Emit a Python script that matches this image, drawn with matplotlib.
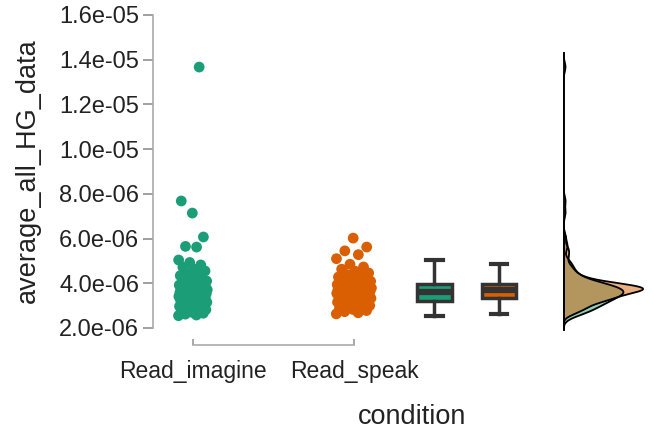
import numpy as np
import matplotlib
matplotlib.use("Agg")
import matplotlib.pyplot as plt

plt.rcParams["font.family"] = ["Liberation Sans", "DejaVu Sans"]

categories = ["Read_imagine", "Read_speak"]
colors = ["#1b9e77", "#d95f02"]

# values in units of 1e-06
read_imagine = [
    2.55, 2.58, 2.62, 2.66, 2.70, 2.73, 2.76, 2.79, 2.82, 2.85, 2.88, 2.91, 2.94,
    2.97, 3.00, 3.03, 3.05, 3.07, 3.09, 3.11, 3.13, 3.15, 3.17, 3.19, 3.21,
    3.23, 3.25, 3.27, 3.29, 3.31, 3.33, 3.35, 3.37, 3.39, 3.41, 3.42, 3.44, 3.45,
    3.47, 3.48, 3.50, 3.51, 3.53, 3.54, 3.56, 3.57, 3.58, 3.59, 3.60, 3.62,
    3.63, 3.65, 3.66, 3.68, 3.69, 3.71, 3.72, 3.74, 3.75, 3.77, 3.78, 3.80, 3.82,
    3.83, 3.85, 3.87, 3.88, 3.90, 3.92, 3.94, 3.96, 3.97, 3.99, 4.01, 4.03,
    4.06, 4.10, 4.14, 4.18, 4.23, 4.28, 4.34, 4.40, 4.47, 4.55, 4.63, 4.72, 4.82,
    4.93, 5.04, 5.62, 5.65, 6.07, 7.14, 7.68, 13.67,
]
read_speak = [
    2.63, 2.68, 2.73, 2.78, 2.83, 2.88, 2.92, 2.96, 3.00, 3.04, 3.07, 3.10, 3.13,
    3.16, 3.19, 3.21, 3.23, 3.25, 3.27, 3.29, 3.31, 3.33, 3.34, 3.36, 3.37,
    3.39, 3.41, 3.43, 3.45, 3.47, 3.49, 3.50, 3.52, 3.54, 3.55, 3.57, 3.58, 3.60,
    3.61, 3.62, 3.64, 3.65, 3.66, 3.67, 3.68, 3.69, 3.70, 3.71, 3.72, 3.73,
    3.74, 3.75, 3.76, 3.77, 3.78, 3.79, 3.80, 3.81, 3.82, 3.83, 3.84, 3.85, 3.86,
    3.87, 3.88, 3.89, 3.91, 3.92, 3.94, 3.95, 3.97, 3.98, 4.00, 4.01, 4.03,
    4.06, 4.09, 4.12, 4.15, 4.19, 4.23, 4.28, 4.33, 4.39, 4.46, 4.54, 4.63, 4.73,
    4.85, 5.10, 5.28, 5.45, 5.62, 6.02,
]
groups = [np.array(read_imagine) * 1e-6, np.array(read_speak) * 1e-6]

yticks = np.arange(2, 17, 2) * 1e-6
ylim = (1.24e-6, 1.6e-5)

fig = plt.figure(figsize=(6.53, 4.34), dpi=100)
ax = fig.add_axes([0.2343, 0.2051, 0.579, 0.7604])
axd = fig.add_axes([0.862, 0.2051, 0.138, 0.7604])

# jittered points
for i, (vals, col) in enumerate(zip(groups, colors)):
    k = np.arange(len(vals))
    jit = ((k * 0.618034) % 1 - 0.5) * 2 * (0.09 + 0.02 * i)
    ax.scatter(i + 1 + jit, vals, s=60, color=col, edgecolors="none", zorder=3)

# boxplots
bp = ax.boxplot(groups, positions=[2.5, 2.9], widths=0.215, patch_artist=True,
                showfliers=False, capwidths=0.1, manage_ticks=False)
for patch, col in zip(bp["boxes"], colors):
    patch.set_facecolor(col)
    patch.set_edgecolor("#333333")
    patch.set_linewidth(2.5)
for key in ["whiskers", "caps", "medians"]:
    for ln in bp[key]:
        ln.set_color("#333333")
        ln.set_linewidth(2.5)
for ln in bp["medians"]:
    ln.set_linewidth(4.5)
for ln in bp["caps"]:
    ln.set_linewidth(3)

ax.set_xlim(0.7516, 3.1)
ax.set_ylim(*ylim)
ax.set_yticks(yticks)
ax.set_yticklabels([f"{v:.1e}" for v in yticks])
ax.set_xticks([1, 2])
ax.set_xticklabels(categories)
for s in ["top", "right"]:
    ax.spines[s].set_visible(False)
ax.spines["left"].set_bounds(2e-6, 1.6e-5)
ax.spines["bottom"].set_bounds(1, 2)
for s in ["left", "bottom"]:
    ax.spines[s].set_color("#aaaaaa")
    ax.spines[s].set_linewidth(1.2)
ax.tick_params(axis="y", length=7, width=1.3, color="#999999", pad=3,
               labelsize=17, labelcolor="#222222")
ax.tick_params(axis="x", direction="in", length=4, width=1.2, color="#999999",
               pad=11, labelsize=16.5, labelcolor="#222222")

fig.text(0.043, 0.608, "average_all_HG_data", rotation=90, ha="center",
         va="center", fontsize=19.5, color="#222222")
fig.text(0.631, 0.039, "condition", ha="center", va="center", fontsize=19.5,
         color="#222222")

# densities (bw.nrd0 style, cut = 3)
dens = []
for vals in groups:
    n = len(vals)
    iqr = np.percentile(vals, 75) - np.percentile(vals, 25)
    bw = 0.9 * min(np.std(vals, ddof=1), iqr / 1.34) * n ** -0.2
    grid = np.linspace(vals.min() - 3 * bw, vals.max() + 3 * bw, 512)
    d = np.exp(-0.5 * ((grid[:, None] - vals[None, :]) / bw) ** 2).sum(1)
    d /= n * bw * np.sqrt(2 * np.pi)
    dens.append((grid, d))
dmax = max(d.max() for _, d in dens)
for (grid, d), col in zip(dens, colors):
    axd.fill_betweenx(grid, 0, d, color=col, alpha=0.5, linewidth=0)
    axd.plot(d, grid, color="black", lw=1.3)
    axd.plot([0, 0], [grid[0], grid[-1]], color="black", lw=1.3)
axd.set_xlim(-dmax * 0.01, dmax * 90 / 80)
axd.set_ylim(*ylim)
axd.axis("off")

fig.savefig("out.png", dpi=100)
